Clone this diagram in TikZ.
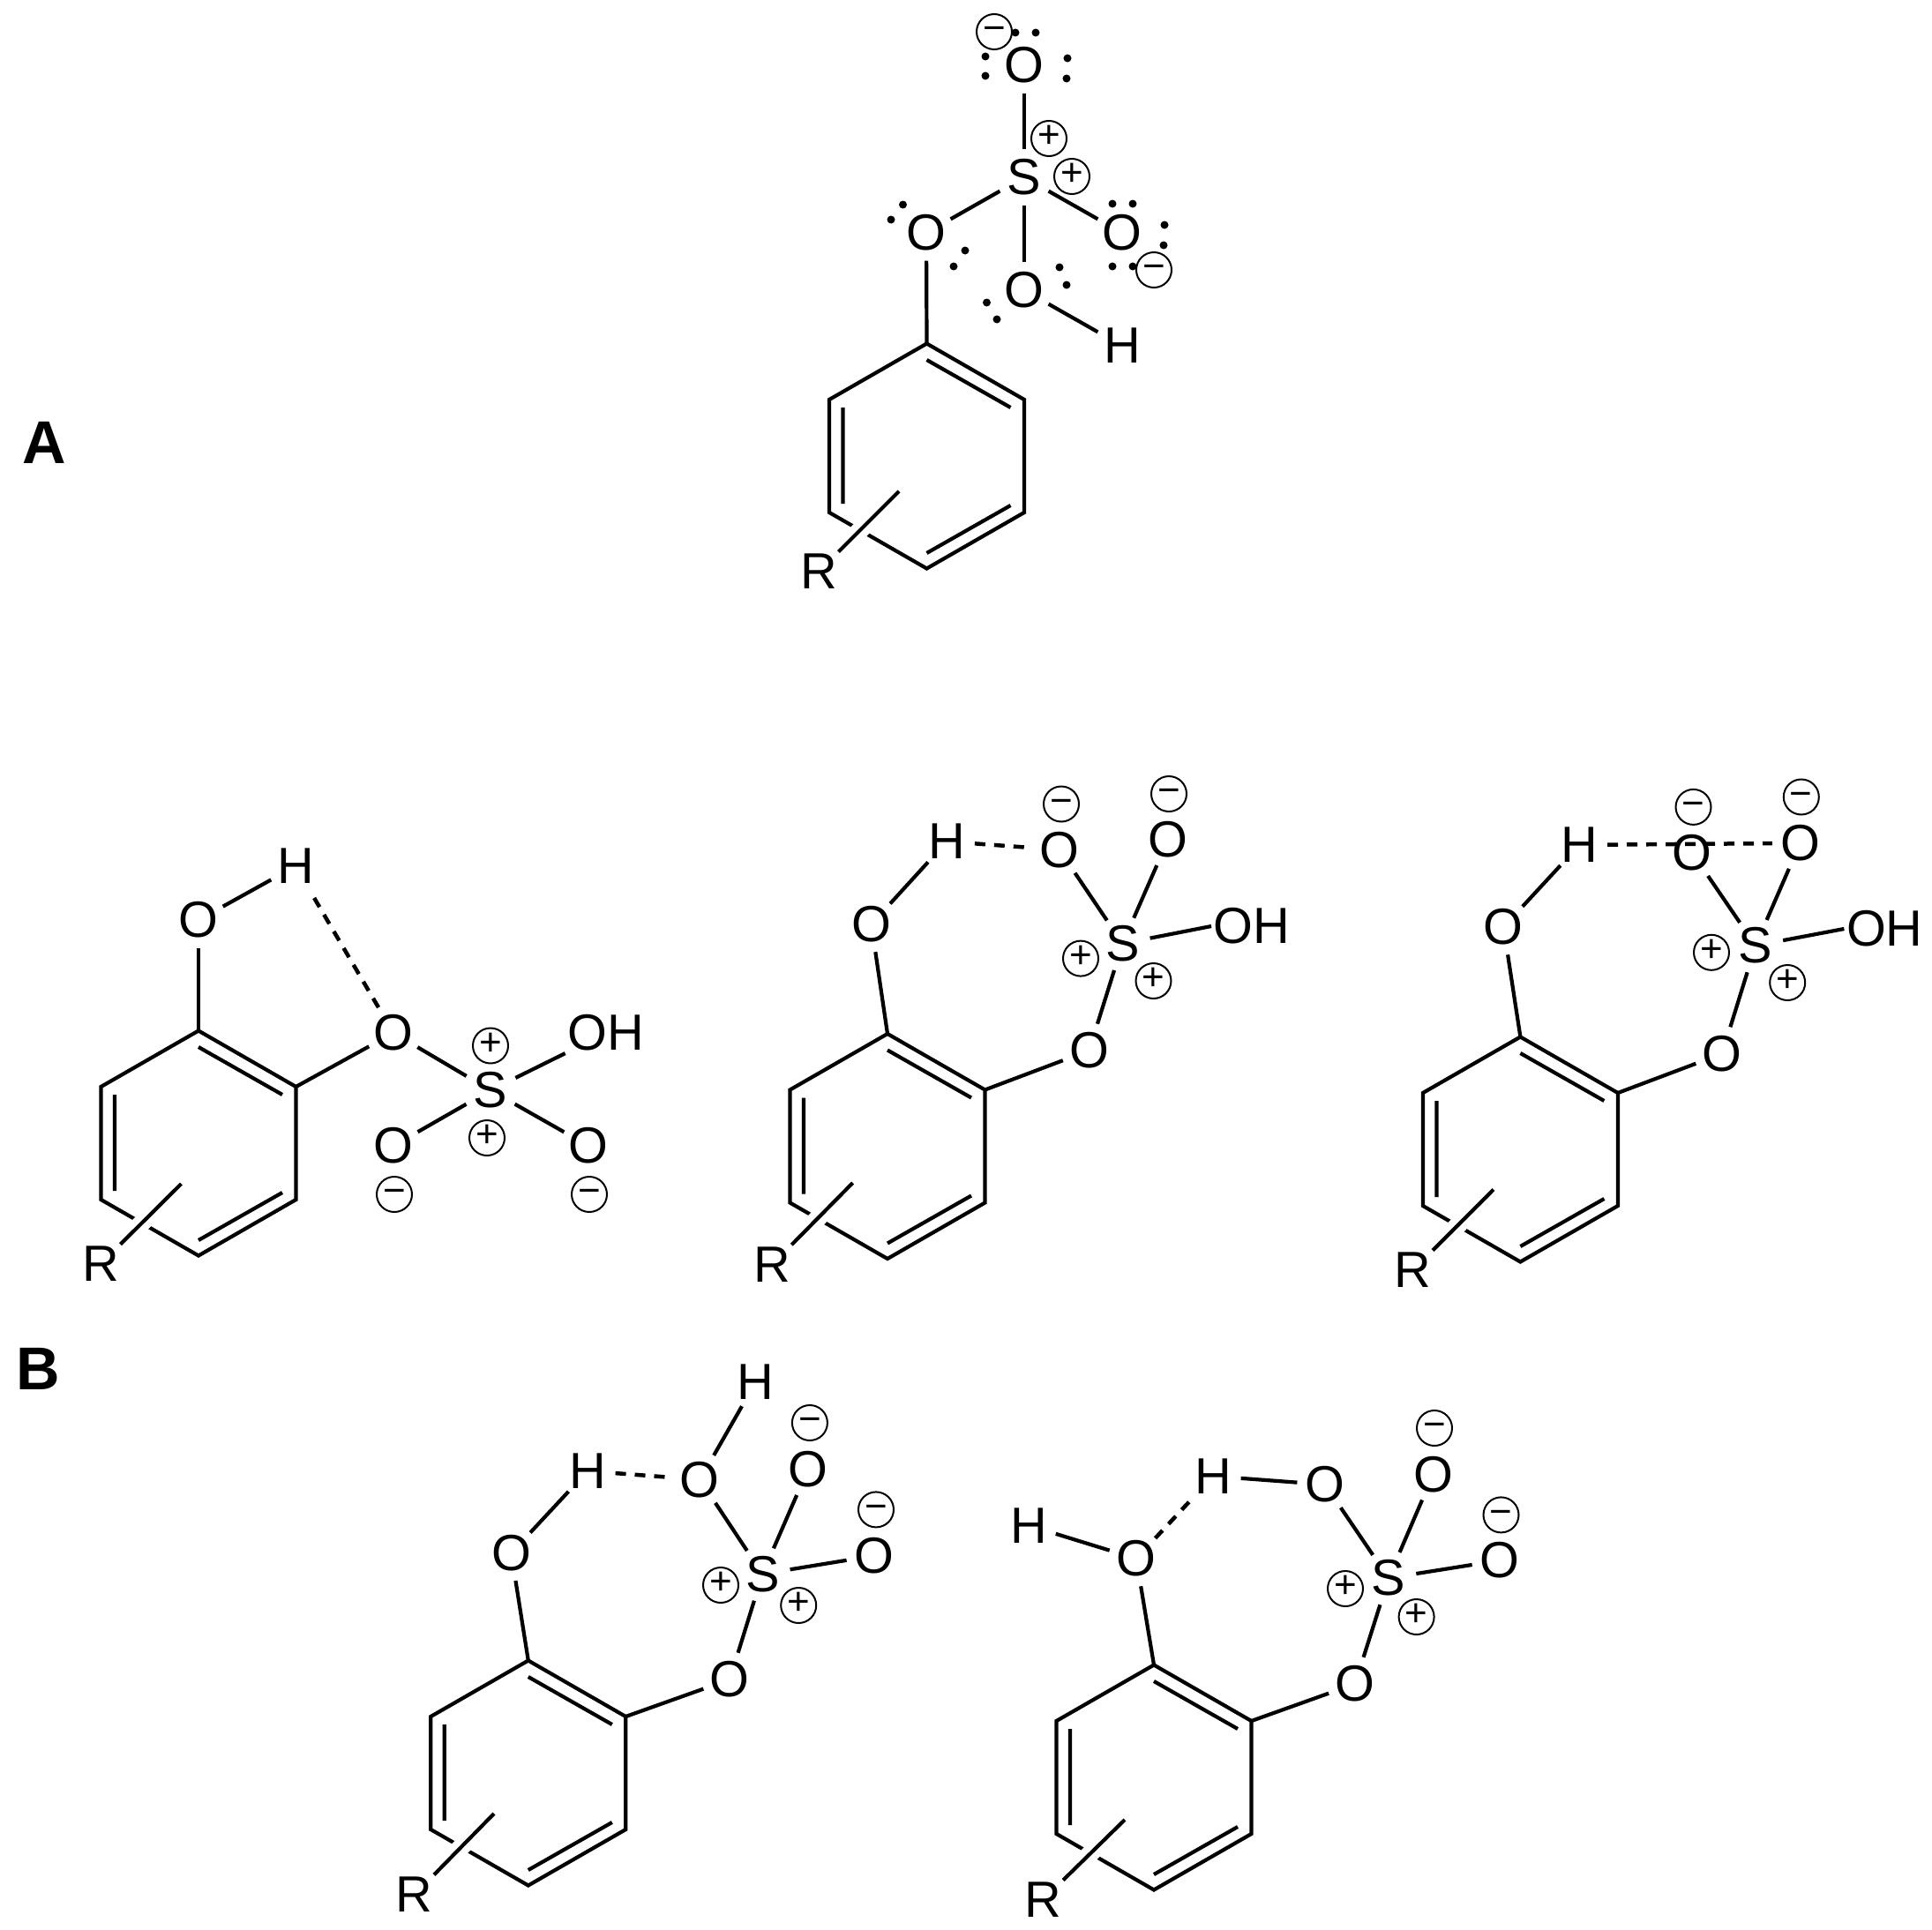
\documentclass[tikz,border=0pt]{standalone}
\usepackage{fontspec}
\setmainfont{Liberation Sans}
\tikzset{
atom/.style={circle, inner sep=0pt, minimum size=0.62cm, font=\fontsize{16.4}{18}\selectfont},
acid/.style={inner sep=0.02cm, font=\fontsize{16.4}{18}\selectfont},
charge/.style={circle, draw, line width=0.02cm, inner sep=0pt, minimum size=0.4cm, text height=0.62em, text depth=0pt, font=\fontsize{12.5}{14}\selectfont},
bond/.style={line width=0.042cm},
hbond/.style={line width=0.045cm, dash pattern=on 0.12cm off 0.10cm},
subst/.style={line width=0.042cm, preaction={draw=white, line width=0.2cm}},
panel/.style={font=\fontsize{19.5}{22}\selectfont\bfseries},
phenyl/.pic={
\path (0,1.275) coordinate (-top) (1.105,0.64) coordinate (-ur) (1.105,-0.64) coordinate (-lr)
(0,-1.275) coordinate (-bot) (-1.105,-0.64) coordinate (-ll) (-1.105,0.64) coordinate (-ul);
\draw[bond] (-top)--(-ur)--(-lr)--(-bot)--(-ll)--(-ul)--cycle;
\draw[bond] (0,1.09)--(0.95,0.55) (-0.95,0.55)--(-0.95,-0.54) (0,-1.10)--(0.95,-0.56);
}}
\begin{document}
\begin{tikzpicture}[line join=miter]
\useasboundingbox (0,0) rectangle (21.9,-21.88);
\node[panel] (labA) at (0.50,-5.02) {A};
\node[panel] (labB) at (0.43,-15.52) {B};
\pic (rA) at (10.505,-5.17) {phenyl};
\pic (rB) at (2.25,-12.96) {phenyl};
\pic (rC) at (10.06,-12.995) {phenyl};
\pic (rD) at (17.234,-13.03) {phenyl};
\pic (rE) at (5.988,-20.10) {phenyl};
\pic (rF) at (13.08,-20.15) {phenyl};
\foreach \n/\t/\x/\y in {
oA1/O/11.61/-0.74, sA/S/11.61/-2.01, oA2/O/10.50/-2.64, oA3/O/12.72/-2.64, oA4/O/11.61/-3.29, hA/H/12.72/-3.92, RA/R/9.28/-6.48,
hB/H/3.35/-9.82, oB1/O/2.25/-10.43, oB2/O/4.46/-11.71, sB/S/5.56/-12.36, oB3/O/4.46/-12.99, oB4/O/6.67/-12.99, RB/R/1.14/-14.33,
hC/H/10.733/-9.54, oC1/O/9.877/-10.478, oC2/O/12.008/-9.634, oC3/O/13.24/-9.52, sC/S/12.725/-10.697, oC4/O/12.345/-11.91, RC/R/8.75/-14.338,
hD/H/17.903/-9.579, oD1/O/17.043/-10.51, oD2/O/19.182/-9.668, oD3/O/20.405/-9.558, sD/S/19.90/-10.72, oD4/O/19.52/-11.946, RD/R/16.017/-14.40,
hE1/H/8.567/-15.667, hE2/H/6.66/-16.677, oE1/O/7.934/-16.774, oE2/O/9.158/-16.659, oE3/O/9.909/-17.637, sE/S/8.643/-17.844, oE4/O/8.272/-19.04, oE5/O/5.795/-17.607, RE/R/4.698/-21.48,
hF1/H/11.665/-17.295, oF1/O/12.88/-17.67, hF2/H/13.75/-16.735, oF2/O/15.02/-16.83, oF3/O/16.246/-16.714, sF/S/15.74/-17.89, oF4/O/17.00/-17.69, oF5/O/15.36/-19.09, RF/R/11.825/-21.536}{
\node[atom] (\n) at (\x,\y) {\t};
}
\node[acid] (ohB) at (6.866,-11.71) {OH};
\node[acid] (ohC) at (14.19,-10.50) {OH};
\node[acid] (ohD) at (21.363,-10.53) {OH};
\foreach \a/\b in {
oA1/sA, sA/oA2, sA/oA3, sA/oA4, oA4/hA, oA2/rA-top,
rB-top/oB1, oB1/hB, rB-ur/oB2, oB2/sB, sB/ohB.south west, sB/oB3, sB/oB4,
rC-top/oC1, oC1/hC, oC2/sC, oC3/sC, sC/ohC.west, sC/oC4, oC4/rC-ur,
rD-top/oD1, oD1/hD, oD2/sD, oD3/sD, sD/ohD.west, sD/oD4, oD4/rD-ur,
rE-top/oE5, oE5/hE2, oE1/hE1, oE1/sE, oE2/sE, oE3/sE, sE/oE4, oE4/rE-ur,
rF-top/oF1, hF1/oF1, hF2/oF2, oF2/sF, oF3/sF, sF/oF4, sF/oF5, oF5/rF-ur}{
\draw[bond] (\a)--(\b);
}
\draw[hbond, shorten <=0.1cm] (hB)--(oB2);
\foreach \a/\b in {hC/oC2, hD/oD3, hE2/oE1, oF1/hF2}{
\draw[hbond] (\a)--(\b);
}
\foreach \r/\x/\y in {A/10.19/-5.57, B/2.055/-13.42, C/9.666/-13.41, D/16.929/-13.486, E/5.60/-20.56, F/12.75/-20.63}{
\coordinate (e\r) at (\x,\y);
\draw[subst] (R\r)--(e\r);
}
\foreach \n/\x/\y in {
nA1/11.27/-0.36, nA2/13.08/-3.06,
nB1/4.47/-13.54, nB2/6.68/-13.54,
nC1/12.03/-9.115, nC2/13.25/-9.00,
nD1/19.195/-9.149, nD2/20.418/-9.035,
nE1/9.179/-16.13, nE2/9.93/-17.114,
nF1/16.26/-16.19, nF2/17.015/-17.174}{
\node[charge] (\n) at (\x,\y) {−};
}
\foreach \n/\x/\y in {
pA1/11.89/-1.57, pA2/12.15/-2.00,
pB1/5.56/-11.855, pB2/5.52/-12.90,
pC1/12.25/-10.866, pC2/13.075/-11.12,
pD1/19.40/-10.798, pD2/20.262/-11.14,
pE1/8.17/-17.97, pE2/9.052/-18.20,
pF1/15.25/-18.01, pF2/16.056/-18.33}{
\node[charge] (\n) at (\x,\y) {+};
}
\foreach \x/\y in {
11.51/-0.37, 11.74/-0.37, 11.17/-0.64, 11.17/-0.86, 12.10/-0.66, 12.09/-0.89,
10.235/-2.32, 10.10/-2.49, 10.94/-2.84, 10.81/-3.02,
12.61/-2.31, 12.84/-2.31, 13.20/-2.55, 13.19/-2.78, 12.61/-3.02, 12.84/-3.02,
12.01/-3.03, 12.09/-3.23, 11.185/-3.43, 11.30/-3.62}{
\fill (\x,\y) circle (0.045);
}
\end{tikzpicture}
\end{document}
